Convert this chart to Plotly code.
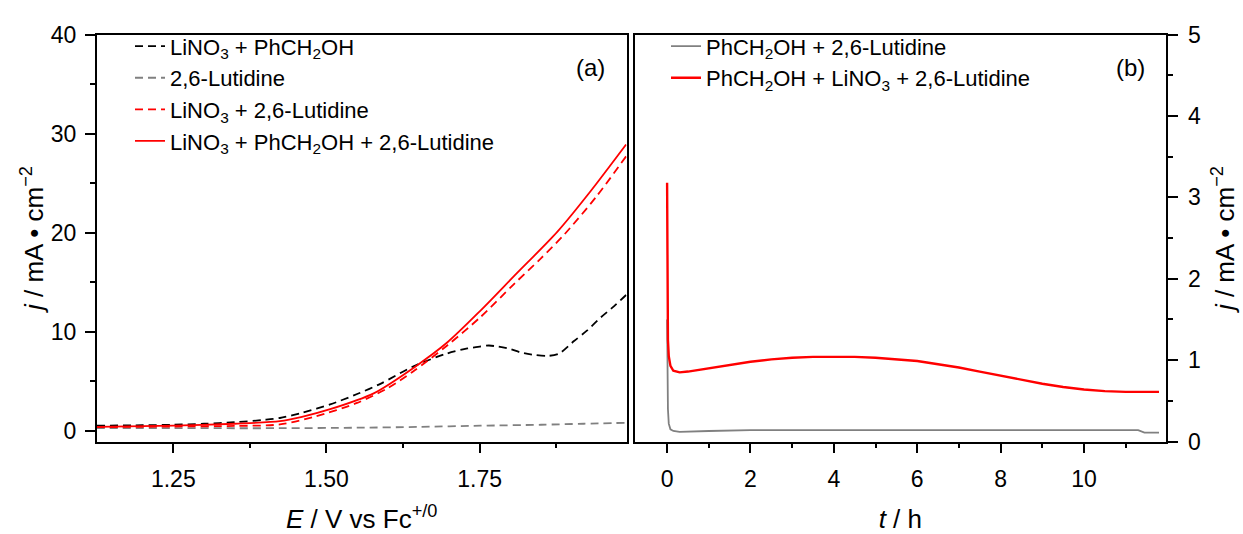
import plotly.graph_objects as go

# ---------------- Panel (a): LSV curves ----------------
E_black = [1.125, 1.20, 1.25, 1.30, 1.35, 1.40, 1.424, 1.46, 1.506, 1.55, 1.588, 1.642, 1.697, 1.73, 1.751, 1.765, 1.779, 1.80, 1.817, 1.84, 1.861, 1.88, 1.904, 1.925, 1.948, 1.97, 1.989]
j_black = [0.5, 0.55, 0.6, 0.7, 0.85, 1.1, 1.28, 1.8, 2.65, 3.7, 4.73, 6.5, 7.8, 8.3, 8.5, 8.6, 8.5, 8.25, 7.9, 7.65, 7.55, 7.8, 9.05, 10.1, 11.45, 12.6, 13.7]

E_gray = [1.125, 1.25, 1.424, 1.55, 1.65, 1.751, 1.85, 1.92, 1.989]
j_gray = [0.25, 0.25, 0.25, 0.3, 0.38, 0.5, 0.6, 0.7, 0.8]

E_red_dash = [1.125, 1.25, 1.35, 1.424, 1.48, 1.55, 1.60, 1.642, 1.697, 1.751, 1.806, 1.85, 1.888, 1.94, 1.989]
j_red_dash = [0.35, 0.42, 0.48, 0.63, 1.4, 2.8, 4.3, 6.0, 8.6, 11.45, 14.8, 17.4, 19.8, 23.6, 27.7]

E_red = [1.125, 1.25, 1.35, 1.424, 1.46, 1.506, 1.577, 1.642, 1.697, 1.751, 1.806, 1.877, 1.93, 1.989]
j_red = [0.38, 0.5, 0.7, 0.96, 1.4, 2.17, 3.77, 6.34, 8.9, 12.1, 15.6, 20.1, 24.1, 28.9]

# ---------------- Panel (b): chronoamperometry ----------------
t_gray = [0.0, 0.005, 0.01, 0.02, 0.04, 0.08, 0.15, 0.3, 1.0, 2.0, 4.0, 6.0, 8.0, 10.0, 11.3, 11.45, 11.8]
j_gray_b = [1.5, 1.1, 0.75, 0.4, 0.22, 0.15, 0.13, 0.12, 0.13, 0.14, 0.14, 0.14, 0.14, 0.14, 0.14, 0.11, 0.11]

t_red = [0.0, 0.005, 0.01, 0.02, 0.04, 0.08, 0.15, 0.3, 0.5, 1.0, 1.5, 2.0, 2.5, 3.0, 3.5, 4.0, 4.5, 5.0, 5.5, 6.0, 6.5, 7.0, 7.5, 8.0, 8.5, 9.0, 9.5, 10.0, 10.5, 11.0, 11.5, 11.8]
j_red_b = [3.18, 2.4, 1.6, 1.25, 1.05, 0.93, 0.87, 0.85, 0.86, 0.9, 0.94, 0.98, 1.01, 1.03, 1.04, 1.04, 1.04, 1.03, 1.01, 0.99, 0.95, 0.91, 0.86, 0.81, 0.76, 0.71, 0.67, 0.64, 0.62, 0.61, 0.61, 0.61]

FONT = "Arial, Liberation Sans, sans-serif"
DASH = "8px,5px"

fig = go.Figure()

fig.add_trace(go.Scatter(x=E_black, y=j_black, mode="lines", name="LiNO<sub>3</sub> + PhCH<sub>2</sub>OH",
                         line=dict(color="black", width=1.8, dash=DASH, shape="spline", smoothing=0.8),
                         xaxis="x", yaxis="y", legend="legend"))
fig.add_trace(go.Scatter(x=E_gray, y=j_gray, mode="lines", name="2,6-Lutidine",
                         line=dict(color="#808080", width=1.8, dash=DASH, shape="spline", smoothing=0.8),
                         xaxis="x", yaxis="y", legend="legend"))
fig.add_trace(go.Scatter(x=E_red_dash, y=j_red_dash, mode="lines", name="LiNO<sub>3</sub> + 2,6-Lutidine",
                         line=dict(color="#ff0000", width=1.8, dash=DASH, shape="spline", smoothing=0.8),
                         xaxis="x", yaxis="y", legend="legend"))
fig.add_trace(go.Scatter(x=E_red, y=j_red, mode="lines", name="LiNO<sub>3</sub> + PhCH<sub>2</sub>OH + 2,6-Lutidine",
                         line=dict(color="#ff0000", width=1.8, shape="spline", smoothing=0.8),
                         xaxis="x", yaxis="y", legend="legend"))

fig.add_trace(go.Scatter(x=t_gray, y=j_gray_b, mode="lines", name="PhCH<sub>2</sub>OH + 2,6-Lutidine",
                         line=dict(color="#808080", width=1.8),
                         xaxis="x2", yaxis="y2", legend="legend2"))
fig.add_trace(go.Scatter(x=t_red, y=j_red_b, mode="lines", name="PhCH<sub>2</sub>OH + LiNO<sub>3</sub> + 2,6-Lutidine",
                         line=dict(color="#ff0000", width=2.4),
                         xaxis="x2", yaxis="y2", legend="legend2"))

W, H = 1243, 534
xa = [96.7 / W, 626.7 / W]
xb = [635.0 / W, 1165.7 / W]
yd = [1 - 450.5 / H, 1 - 22.7 / H]

axis_common = dict(showline=True, linecolor="black", linewidth=1.6, mirror=True,
                   ticks="outside", ticklen=10, tickwidth=1.5, tickcolor="black",
                   showgrid=False, zeroline=False,
                   tickfont=dict(family=FONT, size=23, color="black"),
                   title_font=dict(family=FONT, size=26, color="black"))

YTITLE = "<i>j</i> / mA \u2022 cm<sup>\u22122</sup>"

fig.update_layout(
    width=W, height=H, margin=dict(l=0, r=0, t=0, b=0),
    paper_bgcolor="white", plot_bgcolor="white",
    font=dict(family=FONT, size=22, color="black"),
    xaxis=dict(domain=xa, range=[1.125, 1.99], tickvals=[1.25, 1.5, 1.75], ticktext=["1.25", "1.50", "1.75"],
               minor=dict(tickvals=[1.375, 1.625, 1.875], ticklen=5, tickwidth=1.5, tickcolor="black", ticks="outside"),
               ticklabelstandoff=6,
               title=dict(text="<i>E</i> / V vs Fc<sup>+/0</sup>", standoff=20), anchor="y", **axis_common),
    yaxis=dict(domain=yd, range=[-1.1, 40], tickvals=[0, 10, 20, 30, 40],
               minor=dict(tickvals=[5, 15, 25, 35], ticklen=5, tickwidth=1.5, tickcolor="black", ticks="outside"),
               ticklabelstandoff=4,
               title=dict(text=YTITLE, standoff=0), anchor="x", **axis_common),
    xaxis2=dict(domain=xb, range=[-0.77, 11.96], tickvals=[0, 2, 4, 6, 8, 10],
                minor=dict(tickvals=[1, 3, 5, 7, 9, 11], ticklen=5, tickwidth=1.5, tickcolor="black", ticks="outside"),
                ticklabelstandoff=6,
                title=dict(text="<i>t</i> / h", standoff=20), anchor="y2", **axis_common),
    yaxis2=dict(domain=yd, range=[0, 5], tickvals=[0, 1, 2, 3, 4, 5], side="right",
                minor=dict(tickvals=[0.5, 1.5, 2.5, 3.5, 4.5], ticklen=5, tickwidth=1.5, tickcolor="black", ticks="outside"),
                ticklabelstandoff=6,
                title=dict(text=YTITLE, standoff=16), anchor="x2", **axis_common),
    legend=dict(x=130 / W, y=1 - 13 / H, xanchor="left", yanchor="top", bgcolor="rgba(0,0,0,0)",
                font=dict(family=FONT, size=22, color="black"), tracegroupgap=0, itemwidth=30),
    legend2=dict(x=666 / W, y=1 - 13 / H, xanchor="left", yanchor="top", bgcolor="rgba(0,0,0,0)",
                 font=dict(family=FONT, size=22, color="black"), tracegroupgap=0, itemwidth=30),
    annotations=[
        dict(text="(a)", x=590 / W, y=1 - 57 / H, xref="paper", yref="paper", showarrow=False,
             xanchor="center", yanchor="middle", font=dict(family=FONT, size=24, color="black")),
        dict(text="(b)", x=1130 / W, y=1 - 57 / H, xref="paper", yref="paper", showarrow=False,
             xanchor="center", yanchor="middle", font=dict(family=FONT, size=24, color="black")),
    ],
)

fig.write_html("out.html")
